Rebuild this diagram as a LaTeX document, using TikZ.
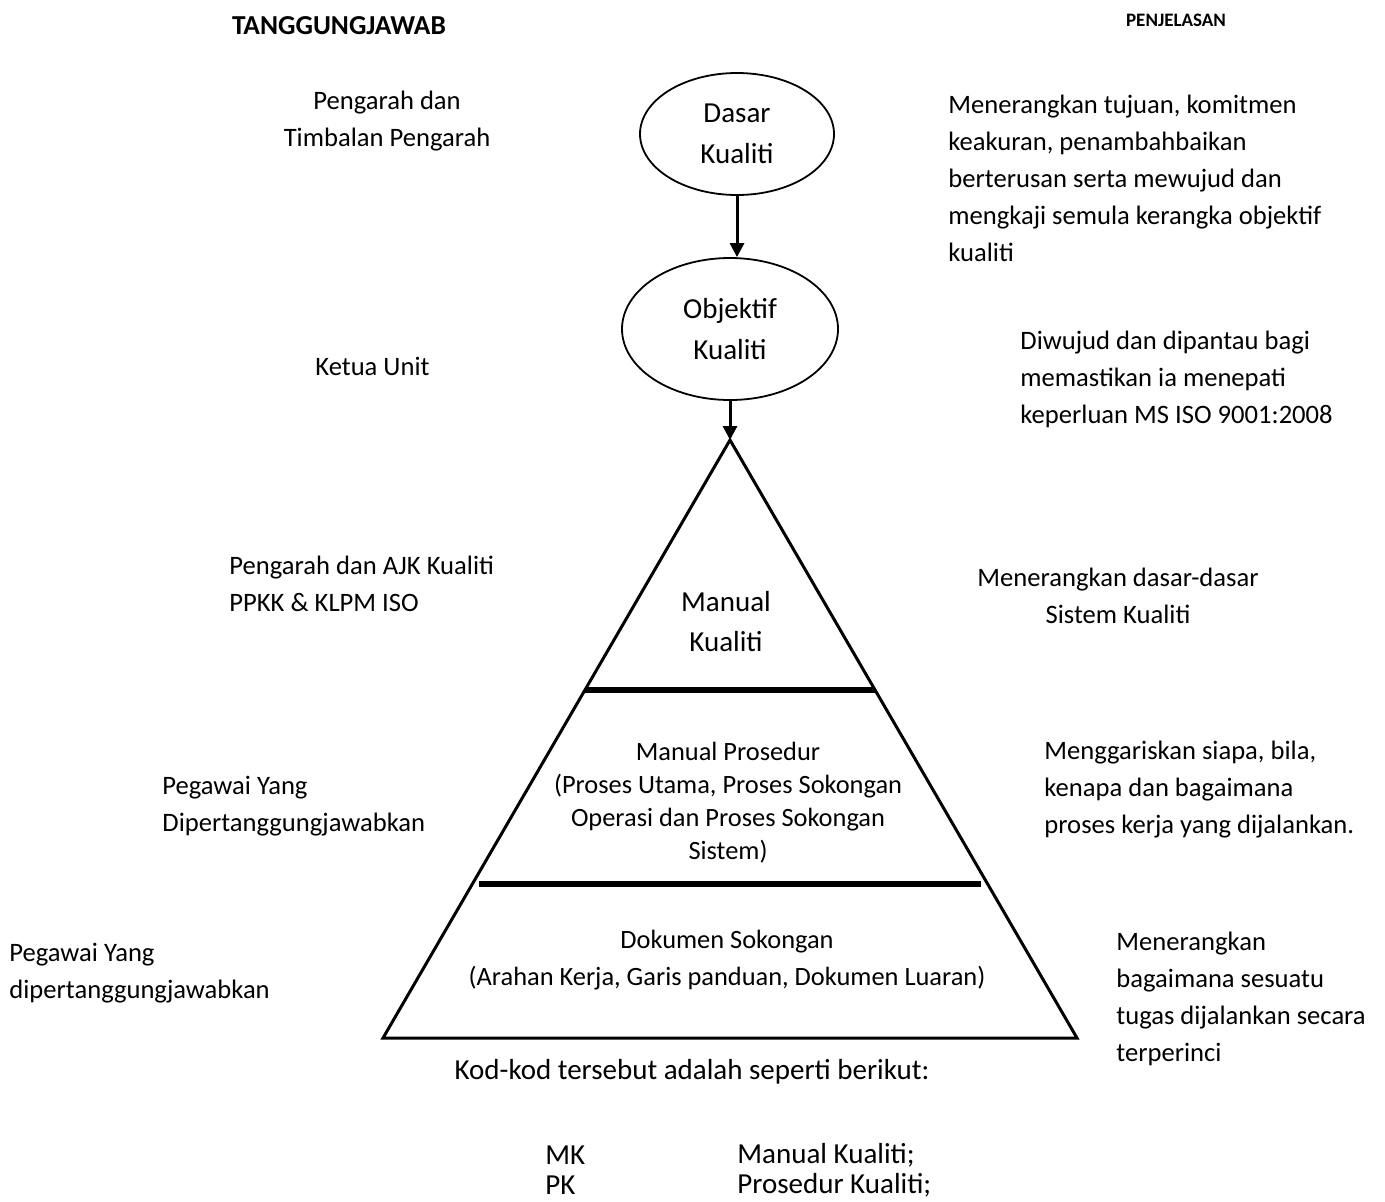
\documentclass[tikz,border=0pt]{standalone}
\usepackage{fontspec}
\setmainfont{Carlito}
\usetikzlibrary{shapes.geometric,arrows.meta,calc}

\begin{document}
\begin{tikzpicture}[
    x=0.5pt, y=-0.5pt,
    bubble/.style={ellipse, draw, line width=0.9pt, align=center, inner sep=0pt, font=\fontsize{14.5}{20.5}\selectfont},
    tiertext/.style={align=center, inner sep=0pt, font=\fontsize{13.2}{18.5}\selectfont},
    sidetext/.style={align=left, inner sep=0pt, font=\fontsize{13.3}{18.5}\selectfont},
    codetext/.style={anchor=west, inner sep=0pt, font=\fontsize{14.5}{15}\selectfont},
    heading/.style={inner sep=0pt, font=\bfseries\fontsize{13.7}{15}\selectfont},
    subheading/.style={inner sep=0pt, font=\bfseries\fontsize{9.5}{12}\selectfont},
    arrow/.style={-{Triangle[length=7pt,width=7pt]}, line width=1.5pt},
    pyramid/.style={line width=1.5pt},
    divider/.style={line width=2.8pt}
]
\useasboundingbox (0,0) rectangle (1385,1201);

% Headings
\node[heading] (hresp) at (339,26) {TANGGUNGJAWAB};
\node[subheading] (hdesc) at (1176,20) {PENJELASAN};

% Policy and objectives
\node[bubble, minimum width=97pt, minimum height=61pt] (dasar) at (737,134) {Dasar\\Kualiti};
\node[bubble, minimum width=108pt, minimum height=71pt] (objektif) at (730,329) {Objektif\\Kualiti};

% Pyramid
\coordinate (apex) at (730,440);
\coordinate (bl) at (383,1038);
\coordinate (br) at (1077,1038);
\draw[pyramid] (bl) -- (apex) -- (br) -- cycle;
\draw[divider] ($(apex)!0.418!(bl)$) -- ($(apex)!0.418!(br)$);
\draw[divider, shorten <=3pt, shorten >=3pt] ($(apex)!0.742!(bl)$) -- ($(apex)!0.742!(br)$);

% Arrows
\draw[arrow] (dasar.south) -- (dasar.south |- objektif.north);
\draw[arrow] (objektif.south) -- (apex);

% Pyramid levels
\node[tiertext, font=\fontsize{14.5}{20}\selectfont] (mk) at (726,622) {Manual\\Kualiti};
\node[tiertext, font=\fontsize{13.2}{16.5}\selectfont] (mp) at (728,803)
    {Manual Prosedur\\(Proses Utama, Proses Sokongan\\Operasi dan Proses Sokongan\\Sistem)};
\node[tiertext] (ds) at (727,960) {Dokumen Sokongan\\(Arahan Kerja, Garis panduan, Dokumen Luaran)};

% Responsibilities
\node[sidetext, align=center] (resp1) at (387,121) {Pengarah dan\\Timbalan Pengarah};
\node[sidetext, anchor=west] (resp2) at (315,366) {Ketua Unit};
\node[sidetext, anchor=west] (resp3) at (229,584) {Pengarah dan AJK Kualiti\\PPKK \& KLPM ISO};
\node[sidetext, anchor=west] (resp4) at (162,806) {Pegawai Yang\\Dipertanggungjawabkan};
\node[sidetext, anchor=west] (resp5) at (9,973) {Pegawai Yang\\dipertanggungjawabkan};

% Descriptions
\node[sidetext, anchor=west] (desc1) at (948,178)
    {Menerangkan tujuan, komitmen\\keakuran, penambahbaikan\\berterusan serta mewujud dan\\mengkaji semula kerangka objektif\\kualiti};
\node[sidetext, anchor=west] (desc2) at (1020,379)
    {Diwujud dan dipantau bagi\\memastikan ia menepati\\keperluan MS ISO 9001:2008};
\node[sidetext, align=center] (desc3) at (1118,596) {Menerangkan dasar-dasar\\Sistem Kualiti};
\node[sidetext, anchor=west] (desc4) at (1044,790)
    {Menggariskan siapa, bila,\\kenapa dan bagaimana\\proses kerja yang dijalankan.};
\node[sidetext, anchor=west] (desc5) at (1116,999)
    {Menerangkan\\bagaimana sesuatu\\tugas dijalankan secara\\terperinci};

% Codes
\node[codetext, anchor=center] (kod) at (692,1072) {Kod-kod tersebut adalah seperti berikut:};
\node[codetext] (c1) at (545,1155) {MK};
\node[codetext] (c1t) at (737,1155) {Manual Kualiti;};
\node[codetext] (c2) at (545,1185) {PK};
\node[codetext] (c2t) at (737,1185) {Prosedur Kualiti;};

\end{tikzpicture}
\end{document}
